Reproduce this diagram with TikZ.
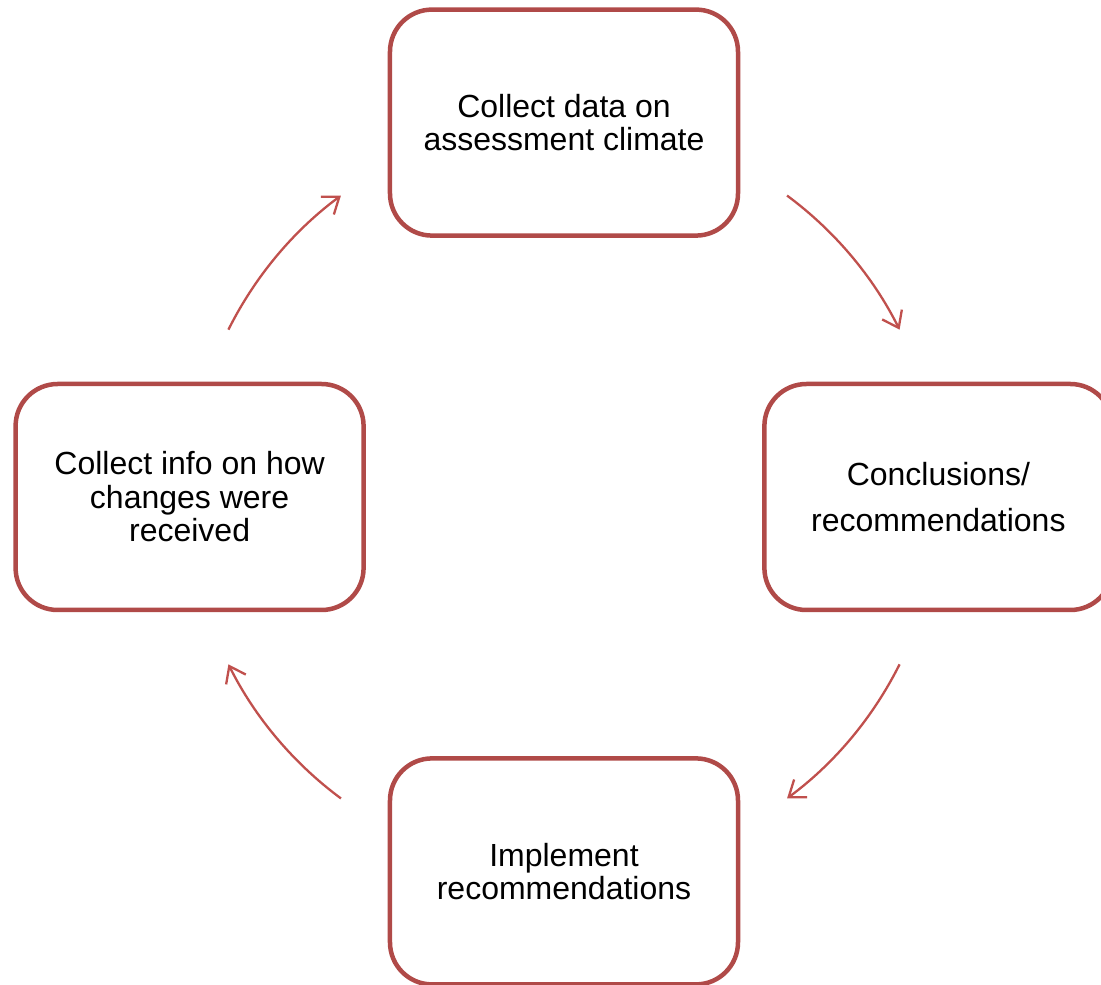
\documentclass[tikz,border=0pt]{standalone}
\usepackage{fontspec}
\setmainfont{Liberation Sans}
\usetikzlibrary{arrows.meta}

\definecolor{boxred}{RGB}{176,74,72}
\definecolor{arrowred}{RGB}{192,80,77}

\begin{document}
\begin{tikzpicture}[x=1pt, y=1pt,
    stage/.style={draw=boxred, line width=4.5pt, rounded corners=42pt, fill=white,
        minimum width=348pt, minimum height=226pt, align=center,
        font=\fontsize{32}{33.5}\selectfont},
    turn/.style={draw=arrowred, line width=2.3pt,
        -{Straight Barb[length=15pt, width=22pt, line width=2.3pt]}}
]

    \useasboundingbox (-564,497) rectangle (537,-488);

    % --- centre of the cycle ---
    \coordinate (hub) at (0,0);

    % --- the four stages ---
    \node[stage] (collect) at (0,374.4) {Collect data on\\assessment climate};
    \node[stage] (conclude) at (374.4,0) {Conclusions/\\[12.5pt]recommendations};
    \node[stage] (implement) at (0,-374.4) {Implement\\recommendations};
    \node[stage] (feedback) at (-374.4,0) {Collect info on how\\changes were\\received};

    % --- arrows round the hub, clockwise ---
    \foreach \a in {153.5, 53.5, -26.5, -126.5} {
        \draw[turn] ([shift={(\a:375pt)}]hub) arc[start angle=\a, delta angle=-27, radius=375pt];
    }

\end{tikzpicture}
\end{document}
